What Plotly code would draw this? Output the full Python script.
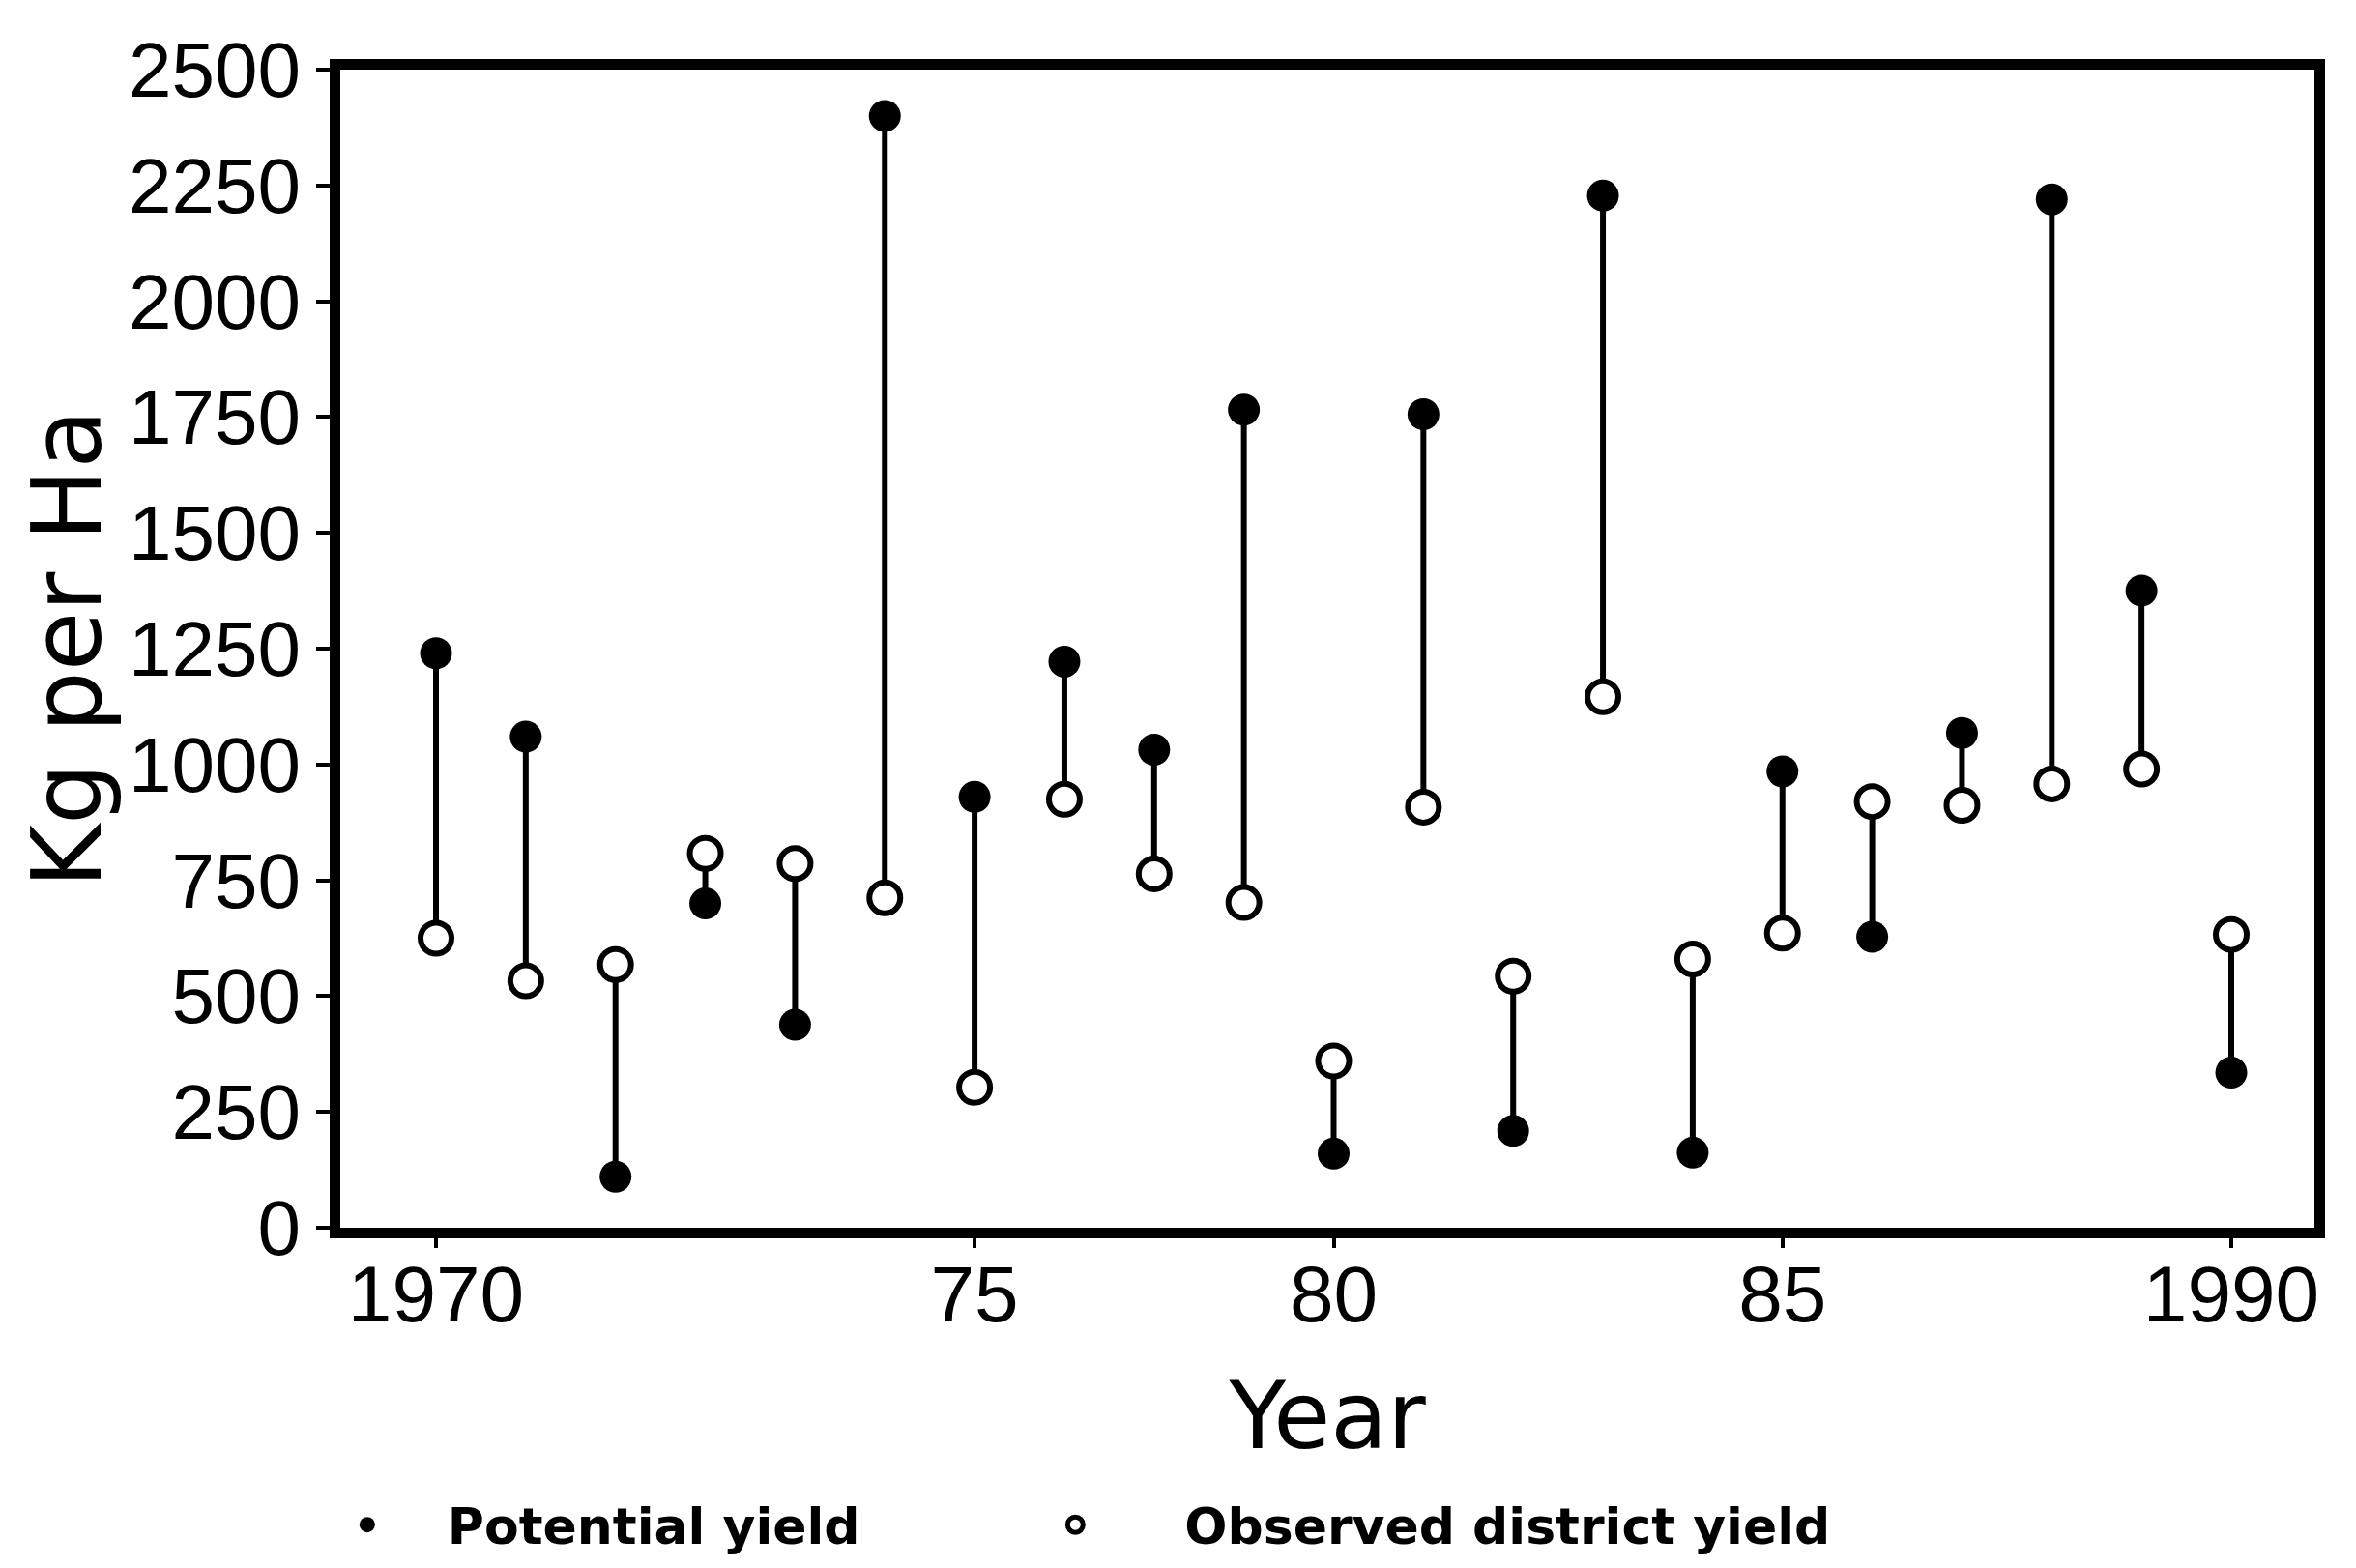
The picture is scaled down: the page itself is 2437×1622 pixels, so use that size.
import plotly.graph_objects as go

# ---- data ----
years = list(range(1970, 1991))
potential_yield = [1240, 1060, 110, 700, 438, 2400, 930, 1222, 1032, 1766,
                   160, 1756, 209, 2228, 162, 985, 628, 1068, 2220, 1375, 335]
observed_yield = [625, 533, 568, 808, 786, 712, 303, 925, 764, 702,
                  360, 908, 543, 1146, 580, 636, 920, 912, 958, 990, 633]

x_tick_vals = [1970, 1976, 1980, 1985, 1990]
x_tick_text = ["1970", "75", "80", "85", "1990"]
y_tick_vals = [0, 250, 500, 750, 1000, 1250, 1500, 1750, 2000, 2250, 2500]

# stems joining each pair
stem_x, stem_y = [], []
for yr, p, o in zip(years, potential_yield, observed_yield):
    stem_x += [yr, yr, None]
    stem_y += [p, o, None]

fig = go.Figure()
fig.add_trace(go.Scatter(x=stem_x, y=stem_y, mode="lines",
                         line=dict(color="black", width=6),
                         showlegend=False, hoverinfo="skip"))
fig.add_trace(go.Scatter(x=years, y=potential_yield, mode="markers",
                         name="Potential yield", legend="legend",
                         marker=dict(symbol="circle", size=33, color="black",
                                     line=dict(color="black", width=0))))
fig.add_trace(go.Scatter(x=years, y=observed_yield, mode="markers",
                         name="Observed district yield", legend="legend2",
                         marker=dict(symbol="circle", size=32, color="white",
                                     line=dict(color="black", width=6))))

tick_font = dict(family="Liberation Sans, Arial, sans-serif", size=80, color="black")
title_font = dict(family="DejaVu Sans, sans-serif", size=96, color="black")
legend_font = dict(family="DejaVu Sans, sans-serif", size=52, color="black", weight="bold")

plot_left, plot_right = 344, 2386
px_per_year = (2300 - 443) / 20
x_lo = 1970 - (443 - plot_left) / px_per_year
x_hi = 1970 + (plot_right - 443) / px_per_year

fig.update_layout(
    width=2437, height=1622,
    paper_bgcolor="white", plot_bgcolor="white",
    margin=dict(l=plot_left, r=2437 - plot_right, t=64, b=350),
    xaxis=dict(
        range=[x_lo, x_hi],
        tickmode="array", tickvals=x_tick_vals, ticktext=x_tick_text,
        tickfont=dict(family="Liberation Sans, Arial, sans-serif", size=82, color="black"),
        ticks="outside", ticklen=10, tickwidth=4, tickcolor="black",
        ticklabelstandoff=-22,
        showline=True, linecolor="black", linewidth=11, mirror=True,
        showgrid=False, zeroline=False,
        title=dict(text="Year", font=title_font, standoff=52),
    ),
    yaxis=dict(
        range=[0, 2500],
        tickmode="array", tickvals=y_tick_vals,
        tickfont=tick_font,
        ticks="outside", ticklen=14, tickwidth=4, tickcolor="black",
        showline=True, linecolor="black", linewidth=11, mirror=True,
        showgrid=False, zeroline=False,
        title=dict(text="Kg per Ha", font=dict(family="DejaVu Sans, sans-serif",
                                               size=100, color="black"), standoff=0),
    ),
    legend=dict(
        orientation="h",
        x=-0.027, xanchor="left",
        y=-0.2566, yanchor="middle",
        font=legend_font,
        itemwidth=156,
        bgcolor="rgba(0,0,0,0)",
    ),
    legend2=dict(
        orientation="h",
        x=0.317, xanchor="left",
        y=-0.2566, yanchor="middle",
        font=legend_font,
        itemwidth=216,
        bgcolor="rgba(0,0,0,0)",
    ),
)

fig.write_html("out.html")
